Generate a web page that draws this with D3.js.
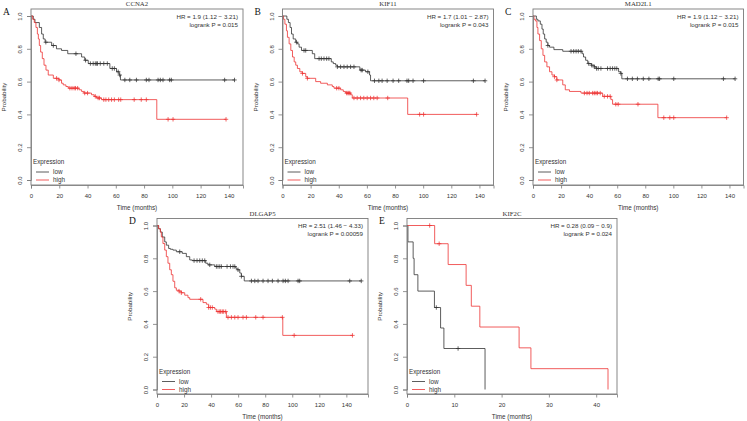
<!DOCTYPE html>
<html><head><meta charset="utf-8">
<script src="https://cdn.jsdelivr.net/npm/d3@7"></script>
<style>body{margin:0;background:#fff;} svg{display:block;}</style>
</head><body>
<svg id="c" width="747" height="421"></svg>
<script>
// ---------------- DATA ----------------
const panelLetters = ["A", "B", "C", "D", "E"];
const genes = ["CCNA2", "KIF11", "MAD2L1", "DLGAP5", "KIF2C"];
const hrLines = ["HR = 1.9 (1.12 \u2212 3.21)", "HR = 1.7 (1.01 \u2212 2.87)", "HR = 1.9 (1.12 \u2212 3.21)", "HR = 2.51 (1.46 \u2212 4.33)", "HR = 0.28 (0.09 \u2212 0.9)"];
const pLines = ["logrank P = 0.015", "logrank P = 0.043", "logrank P = 0.015", "logrank P = 0.00059", "logrank P = 0.024"];
const groupNames = ["low", "high"];
const legendTitle = "Expression";
const xLabel = "Time (months)";
const yLabel = "Probability";
const xMax = [150, 150, 150, 156, 44.4];
const xTicksMonths = [0, 20, 40, 60, 80, 100, 120, 140];
const xTicksE = [0, 10, 20, 30, 40];
const yTicks = [0, 0.2, 0.4, 0.6, 0.8, 1.0];

// step curves: [time, survival after step]
const aLow = [[0,1],[1.6,0.98],[2.8,0.96],[5.9,0.93],[7.5,0.89],[8.7,0.86],[10,0.84],[14.6,0.82],[18,0.80],[21.6,0.79],[26,0.77],[35.8,0.75],[38,0.73],[40.5,0.71],[55.8,0.68],[60.5,0.66],[62.4,0.64],[63.3,0.61]];
const aLowEnd = 144;
const aLowCens = [10.5,15.8,31.8,38.6,42,44,45.5,46.5,47,49,51.5,54,57.5,59,61.7,62.8,66.4,69.9,74.6,81.6,83.5,89.9,91.5,93.4,98.1,99.3,137,144];
const aHigh = [[0,1],[1.2,0.98],[2.3,0.96],[3.5,0.93],[4.5,0.89],[5.2,0.86],[5.9,0.82],[6.8,0.78],[8,0.74],[9.2,0.70],[10.6,0.67],[12.2,0.64],[15.8,0.62],[19.8,0.61],[21.6,0.59],[22.8,0.58],[24.7,0.57],[26.4,0.56],[34,0.55],[35.8,0.54],[37.4,0.53],[42.8,0.52],[44.7,0.51],[46.4,0.50],[49.9,0.49],[89,0.37]];
const aHighEnd = 138;
const aHighCens = [18.1,19.8,27.5,29,30.5,31.5,33,38,40,45.5,47.5,48.5,51.5,53,55,57,59,62,63.5,73,78,81.6,97,100.5,138];

const bLow = [[0,1],[3.1,0.98],[4.2,0.96],[5.4,0.93],[6.4,0.89],[7.6,0.86],[9.4,0.84],[10.6,0.83],[11.8,0.81],[13.5,0.79],[21.2,0.77],[22.9,0.74],[34.7,0.72],[36.1,0.71],[37.8,0.70],[39,0.69],[55,0.67],[59,0.66],[61.9,0.64],[62.6,0.605]];
const bLowEnd = 144;
const bLowCens = [9.9,15.3,16.5,26,27.6,29.5,31.4,33,39,41.3,43.7,46,48.4,50.8,55.9,56.7,60.7,65.4,68.5,70.8,74.4,78.6,82.6,88.5,89.7,92.8,100.3,135.7,144];
const bHigh = [[0,1],[0.7,0.98],[1.7,0.95],[2.8,0.91],[3.5,0.87],[4.7,0.83],[5.9,0.79],[7.1,0.75],[8.3,0.72],[9.4,0.70],[10.6,0.68],[12.3,0.66],[14,0.65],[16.5,0.63],[17.5,0.62],[23.6,0.60],[27.1,0.59],[31.9,0.58],[35.4,0.57],[36.6,0.56],[41.3,0.55],[43.2,0.54],[44.9,0.53],[48.4,0.52],[49.6,0.50],[89,0.40]];
const bHighEnd = 138;
const bHighCens = [14.2,17.7,38.5,40.1,45.6,46.5,47.2,47.9,50.8,53.1,55.5,57.8,60.2,62.6,64.9,67.3,74.8,97.5,100.3,138];

const cLow = [[0,1],[2.4,0.98],[3.5,0.97],[5.2,0.95],[6.4,0.92],[7.3,0.89],[8.3,0.86],[9.4,0.84],[10.6,0.82],[11.8,0.81],[14.9,0.795],[21.2,0.785],[35,0.77],[36,0.75],[37.5,0.73],[39,0.71],[41.6,0.70],[43.7,0.69],[45,0.68],[61,0.66],[62.6,0.65],[63.3,0.617]];
const cLowEnd = 144;
const cLowCens = [10.6,27.1,29,30.7,32.3,34.2,39.7,41.8,43.7,45.3,46.5,48.4,53.1,55,56.7,58.3,59.7,62.6,67.3,70.8,74.4,78.6,82.6,89.2,90.2,100.3,135.7,144];
const cHigh = [[0,1],[0.7,0.98],[1.7,0.97],[2.8,0.93],[3.5,0.89],[4.7,0.85],[5.9,0.80],[7.1,0.76],[8.3,0.72],[9.9,0.69],[11.8,0.66],[13.5,0.64],[15.3,0.63],[17,0.61],[21.2,0.58],[23,0.55],[26,0.54],[34.2,0.53],[49.6,0.51],[55.5,0.49],[56.7,0.462],[89,0.38]];
const cHighEnd = 138;
const cHighCens = [15.3,17,36.6,38.5,40.1,42.5,43.7,44.9,46,47.9,50.8,53.1,55,59,60.7,74.8,93.2,97.5,100.3,138];

const dLow = [[0,1],[1.2,0.98],[2.5,0.96],[3.9,0.93],[5.7,0.90],[6.9,0.88],[8.6,0.86],[9.9,0.855],[11.8,0.85],[14.3,0.84],[18.7,0.83],[21.7,0.81],[24.2,0.79],[26.1,0.786],[36,0.77],[37.7,0.76],[42.7,0.75],[58.2,0.74],[59.2,0.73],[61.2,0.71],[62.4,0.69],[64.5,0.662]];
const dLowEnd = 151;
const dLowCens = [16.8,27.4,29.6,31.6,33.5,35.3,39,43.9,45.1,46.4,47.6,51.8,54.3,56.2,57.5,59.9,62.4,69.8,72.3,74.7,78.4,82.1,85.3,89.5,93.2,94.9,96.9,104.3,105.5,142.5,151];
const dHigh = [[0,1],[1.2,0.98],[2.5,0.96],[3.2,0.93],[4.4,0.89],[5.7,0.85],[6.9,0.81],[8.1,0.77],[9.4,0.73],[10.6,0.70],[11.8,0.66],[13.1,0.62],[14.3,0.605],[16.3,0.60],[18,0.59],[20.5,0.575],[22.9,0.56],[24.2,0.55],[34,0.53],[36.5,0.52],[38.2,0.50],[42.7,0.49],[43.9,0.475],[51.3,0.44],[93,0.33]];
const dHighEnd = 144.5;
const dHighCens = [16.3,18,32.3,38.2,39.5,40.9,45.1,46.4,47.1,48.3,49.3,50.8,52.5,55,57.5,59.9,63.6,66.1,73,78.4,92.7,101.4,144.5];

const eLow = [[0,1],[0.2,0.9],[1.3,0.8],[1.5,0.7],[2.3,0.6],[5.8,0.5],[7.1,0.375],[7.8,0.25],[16.5,0]];
const eLowEnd = 16.5;
const eLowCens = [6.2, 10.8];
const eHigh = [[0,1],[5.85,0.889],[8.7,0.762],[12.5,0.635],[13.6,0.508],[15.4,0.381],[23.7,0.254],[26.2,0.127],[42.5,0]];
const eHighEnd = 42.5;
const eHighCens = [4.8, 6.8];

const curves = [
  [[aLow, aLowEnd, aLowCens], [aHigh, aHighEnd, aHighCens]],
  [[bLow, bLowEnd, bLowCens], [bHigh, bHighEnd, bHighCens]],
  [[cLow, cLowEnd, cLowCens], [cHigh, cHighEnd, cHighCens]],
  [[dLow, dLowEnd, dLowCens], [dHigh, dHighEnd, dHighCens]],
  [[eLow, eLowEnd, eLowCens], [eHigh, eHighEnd, eHighCens]]
];
const xTickSets = [xTicksMonths, xTicksMonths, xTicksMonths, xTicksMonths, xTicksE];

// ---------------- LAYOUT ----------------
const layout = [
  {left: 31,  right: 243,   top: 9,     bottom: 185, y0: 180,   y1: 16},
  {left: 282.5, right: 493.5, top: 9,   bottom: 185, y0: 180,   y1: 16},
  {left: 533, right: 743.5, top: 9,     bottom: 185, y0: 180,   y1: 16},
  {left: 157, right: 368,   top: 218.5, bottom: 394, y0: 389.5, y1: 225.5},
  {left: 407, right: 617,   top: 218.5, bottom: 394, y0: 389.5, y1: 225.5}
];
const colors = ["#333333", "#ee3333"];
const boxColor = "#7a7a7a";
const textColor = "#333";
const sans = "'Liberation Sans', Arial, sans-serif";
const serif = "'Liberation Serif', 'Times New Roman', serif";

const svg = d3.select("#c");

function survAt(steps, t) {
  let s = steps[0][1];
  for (const [ti, si] of steps) { if (ti <= t) s = si; else break; }
  return s;
}

layout.forEach((L, i) => {
  const g = svg.append("g");
  const x = d3.scaleLinear().domain([0, xMax[i]]).range([L.left, L.right]);
  const y = d3.scaleLinear().domain([0, 1]).range([L.y0, L.y1]);

  // curves
  curves[i].forEach((cv, k) => {
    const [steps, end, cens] = cv;
    let p = d3.path();
    p.moveTo(x(steps[0][0]), y(steps[0][1]));
    for (let j = 1; j < steps.length; j++) {
      p.lineTo(x(steps[j][0]), y(steps[j - 1][1]));
      p.lineTo(x(steps[j][0]), y(steps[j][1]));
    }
    p.lineTo(x(end), y(steps[steps.length - 1][1]));
    g.append("path").attr("d", p.toString()).attr("fill", "none")
      .attr("stroke", colors[k]).attr("stroke-width", 0.8);
    const a = 2.2;
    g.append("g").selectAll("path").data(cens).join("path")
      .attr("d", t => {
        const cx = x(t), cy = y(survAt(steps, t));
        return `M${cx - a},${cy}H${cx + a}M${cx},${cy - a}V${cy + a}`;
      })
      .attr("stroke", colors[k]).attr("stroke-width", 0.75).attr("fill", "none");
  });

  // box
  g.append("rect").attr("x", L.left).attr("y", L.top)
    .attr("width", L.right - L.left).attr("height", L.bottom - L.top)
    .attr("fill", "none").attr("stroke", boxColor).attr("stroke-width", 0.9);

  // x axis
  const xa = g.append("g").attr("transform", `translate(0,${L.bottom})`)
    .call(d3.axisBottom(x).tickValues(xTickSets[i]).tickSize(3.5).tickPadding(5).tickFormat(d3.format("d")));
  xa.select(".domain").attr("stroke", boxColor).attr("stroke-width", 0.8);
  xa.selectAll(".tick line").attr("stroke", boxColor).attr("stroke-width", 0.8);
  xa.selectAll("text").attr("font-family", sans).attr("font-size", 6).attr("fill", textColor);

  // y axis
  const ya = g.append("g").attr("transform", `translate(${L.left},0)`)
    .call(d3.axisLeft(y).tickValues(yTicks).tickSize(4).tickFormat(d3.format(".1f")));
  ya.select(".domain").attr("stroke", boxColor).attr("stroke-width", 0.8);
  ya.selectAll(".tick line").attr("stroke", boxColor).attr("stroke-width", 0.8);
  ya.selectAll("text").attr("x", null).attr("dy", null)
    .attr("transform", "translate(-9,0) rotate(-90)")
    .attr("text-anchor", "middle")
    .attr("font-family", sans).attr("font-size", 6).attr("fill", textColor);

  // titles and labels
  g.append("text").attr("x", (L.left + L.right) / 2).attr("y", L.top - 2.8)
    .attr("text-anchor", "middle").attr("font-family", serif).attr("font-size", 6.8)
    .attr("fill", textColor).text(genes[i]);
  g.append("text").attr("x", L.left - 28).attr("y", L.y1 - 1.5)
    .attr("font-family", serif).attr("font-size", 9.5).attr("fill", "#111").text(panelLetters[i]);
  g.append("text").attr("transform", `translate(${L.left - 25},${(L.top + L.bottom) / 2}) rotate(-90)`)
    .attr("text-anchor", "middle").attr("font-family", sans).attr("font-size", 6.2)
    .attr("fill", textColor).text(yLabel);
  g.append("text").attr("x", (L.left + L.right) / 2).attr("y", L.bottom + 24.5)
    .attr("text-anchor", "middle").attr("font-family", sans).attr("font-size", 6.3)
    .attr("fill", textColor).text(xLabel);

  // HR texts
  g.append("text").attr("x", L.right - 5).attr("y", L.y1 + 2.5)
    .attr("text-anchor", "end").attr("font-family", sans).attr("font-size", 6.2)
    .attr("fill", textColor).text(hrLines[i]);
  g.append("text").attr("x", L.right - 5).attr("y", L.y1 + 10.5)
    .attr("text-anchor", "end").attr("font-family", sans).attr("font-size", 6.2)
    .attr("fill", textColor).text(pLines[i]);

  // legend
  g.append("text").attr("x", L.left + 2).attr("y", L.y0 - 16)
    .attr("font-family", sans).attr("font-size", 6.3).attr("fill", textColor).text(legendTitle);
  groupNames.forEach((nm, k) => {
    const ly = L.y0 - 8 + k * 8;
    g.append("line").attr("x1", L.left + 5).attr("x2", L.left + 18).attr("y1", ly).attr("y2", ly)
      .attr("stroke", colors[k]).attr("stroke-width", 0.8);
    g.append("text").attr("x", L.left + 22).attr("y", ly + 2.2)
      .attr("font-family", sans).attr("font-size", 6.3).attr("fill", textColor).text(nm);
  });
});
</script>
</body></html>
